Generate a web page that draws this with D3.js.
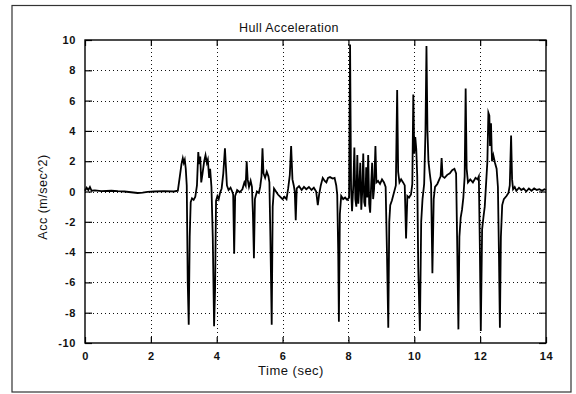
<!DOCTYPE html>
<html>
<head>
<meta charset="utf-8">
<script src="https://cdn.jsdelivr.net/npm/d3@7"></script>
<style>
  html, body { margin: 0; padding: 0; background: #fff; }
  svg { display: block; }
  text { font-family: "Liberation Sans", Arial, Helvetica, sans-serif; fill: #111; }
</style>
</head>
<body>
<svg id="chart" width="576" height="394"></svg>
<script>
// Hull acceleration record: sample times (s) and acceleration (m/s^2)
const timeSec = [
  0.00, 0.05, 0.10, 0.15, 0.20, 0.30, 0.50, 0.80, 1.00, 1.20,
  1.40, 1.60, 1.75, 1.90, 2.10, 2.40, 2.70, 2.82, 2.88, 2.93,
  2.97, 3.00, 3.03, 3.06, 3.09, 3.12, 3.15, 3.18, 3.21, 3.25,
  3.30, 3.35, 3.40, 3.44, 3.47, 3.50, 3.53, 3.57, 3.62, 3.66,
  3.70, 3.73, 3.77, 3.80, 3.84, 3.88, 3.92, 3.95, 3.98, 4.02,
  4.06, 4.10, 4.15, 4.20, 4.25, 4.28, 4.31, 4.36, 4.42, 4.47,
  4.50, 4.53, 4.56, 4.62, 4.70, 4.78, 4.84, 4.88, 4.91, 4.94,
  4.98, 5.03, 5.07, 5.10, 5.13, 5.16, 5.22, 5.28, 5.32, 5.36,
  5.39, 5.42, 5.47, 5.52, 5.57, 5.60, 5.63, 5.67, 5.70, 5.74,
  5.80, 5.86, 5.93, 6.00, 6.06, 6.12, 6.17, 6.22, 6.26, 6.30,
  6.34, 6.37, 6.40, 6.43, 6.50, 6.58, 6.65, 6.72, 6.80, 6.88,
  6.95, 7.02, 7.07, 7.11, 7.16, 7.22, 7.28, 7.33, 7.38, 7.44,
  7.52, 7.58, 7.63, 7.66, 7.69, 7.71, 7.74, 7.78, 7.84, 7.90,
  7.96, 8.02, 8.05, 8.08, 8.11, 8.15, 8.18, 8.21, 8.24, 8.27,
  8.30, 8.33, 8.36, 8.39, 8.42, 8.45, 8.48, 8.51, 8.54, 8.57,
  8.60, 8.63, 8.66, 8.69, 8.72, 8.75, 8.78, 8.82, 8.85, 8.90,
  8.96, 9.02, 9.08, 9.13, 9.17, 9.21, 9.24, 9.27, 9.32, 9.38,
  9.44, 9.48, 9.51, 9.55, 9.60, 9.66, 9.71, 9.75, 9.79, 9.84,
  9.90, 9.94, 9.97, 10.00, 10.03, 10.06, 10.09, 10.12, 10.17, 10.21,
  10.25, 10.30, 10.34, 10.37, 10.40, 10.43, 10.47, 10.51, 10.55, 10.59,
  10.63, 10.70, 10.76, 10.80, 10.83, 10.86, 10.92, 11.00, 11.08, 11.15,
  11.22, 11.27, 11.30, 11.34, 11.37, 11.41, 11.45, 11.49, 11.53, 11.56,
  11.59, 11.63, 11.70, 11.78, 11.86, 11.92, 11.96, 11.99, 12.02, 12.06,
  12.10, 12.14, 12.18, 12.22, 12.25, 12.28, 12.30, 12.33, 12.36, 12.40,
  12.45, 12.50, 12.54, 12.57, 12.60, 12.63, 12.67, 12.72, 12.80, 12.86,
  12.90, 12.94, 12.97, 13.00, 13.05, 13.10, 13.18, 13.25, 13.32, 13.40,
  13.48, 13.56, 13.64, 13.72, 13.80, 13.88, 13.95, 14.00
];
const accMs2 = [
  0.05, 0.25, 0.10, 0.30, 0.05, 0.08, 0.03, 0.05, 0.02, 0.00,
  -0.05, -0.10, -0.08, -0.02, 0.00, 0.02, 0.00, 0.05, 1.00, 1.80,
  2.20, 1.90, 2.10, 1.50, 0.40, -6.0, -8.8, -3.0, -0.7, -0.45,
  -0.55, -0.35, 0.4, 2.6, 1.8, 2.3, 0.6, 1.2, 2.0, 2.4,
  1.9, 2.1, 0.9, 1.5, 0.3, -3.0, -8.9, -6.5, -0.6, -0.3,
  -0.5, -0.1, 0.2, 1.2, 2.85, 1.6, 0.4, 0.1, 0.25, 0.0,
  -0.2, -4.1, -0.3, 0.1, -0.05, 0.15, 0.6, 0.4, 2.0, 0.8,
  0.3, 0.7, 0.3, -1.5, -4.4, -0.5, 0.0, -0.1, 0.3, 1.0,
  2.85, 1.2, 0.9, 1.3, 1.0, 0.6, -3.0, -8.8, -1.0, 0.2,
  0.0, -0.2, -0.35, -0.5, -0.35, -0.5, 0.2, 1.1, 3.0, 0.8,
  0.4, 0.0, -1.9, 0.2, 0.35, 0.1, 0.3, 0.15, 0.3, 0.1,
  0.25, 0.0, -0.9, -0.2, 0.4, 0.9, 0.7, 0.6, 0.9, 0.95,
  0.85, 0.9, 0.4, -0.2, -4.0, -8.6, -1.5, -0.3, -0.5, -0.4,
  -0.55, -0.4, 9.7, 0.2, -1.3, 0.5, 2.9, -0.5, -1.0, 2.4,
  -0.8, 0.3, 1.9, -1.2, 0.0, 2.5, -0.7, -1.0, 1.6, -0.4,
  2.4, -0.8, -1.4, 0.4, 1.9, -0.5, 0.2, 3.0, 0.6, 0.7,
  0.5, 0.8, 0.6, 0.3, -4.0, -9.0, -2.0, -0.9, -0.6, -0.1,
  0.4, 6.7, 1.3, 0.6, 0.8, 0.6, 0.4, -3.1, -0.3, -0.4,
  -0.2, 0.5, 6.4, 2.5, 3.6, 2.8, 1.0, -5.0, -9.2, -2.0,
  -0.5, 0.5, 4.0, 9.6, 4.0, 2.0, 1.2, 0.5, -5.4, -0.5,
  0.3, 0.5, 0.8, 1.0, 2.2, 1.0, 0.9, 1.1, 1.2, 1.4,
  1.5, 1.2, -3.0, -9.1, -3.0, -1.7, -1.2, -0.4, 1.0, 6.8,
  1.5, 0.6, 0.8, 0.6, 0.9, 0.8, 1.0, -3.5, -9.2, -2.5,
  -1.7, -1.0, 0.5, 2.0, 5.2, 5.0, 3.0, 4.5, 2.0, 2.4,
  1.9, 1.5, 0.3, -4.0, -9.0, -3.0, -0.9, -0.5, -0.3, -0.1,
  0.4, 3.7, 0.8, 0.15, 0.3, 0.05, 0.25, 0.1, 0.2, 0.0,
  0.2, 0.05, 0.2, 0.1, 0.15, 0.05, 0.15, 0.1
];
const xTicks = [0, 2, 4, 6, 8, 10, 12, 14];
const yTicks = [-10, -8, -6, -4, -2, 0, 2, 4, 6, 8, 10];
const titleText = "Hull Acceleration";
const xLabel = "Time (sec)";
const yLabel = "Acc (m/sec^2)";

const svg = d3.select("#chart");
const plot = { left: 85, right: 546, top: 40, bottom: 343 };

const x = d3.scaleLinear().domain([0, 14]).range([plot.left, plot.right]);
const y = d3.scaleLinear().domain([-10, 10]).range([plot.bottom, plot.top]);

// outer figure frame
svg.append("rect")
  .attr("x", 12).attr("y", 5.5).attr("width", 559).attr("height", 386.5)
  .attr("fill", "none").attr("stroke", "#333").attr("stroke-width", 1.2);

// dotted grid
const grid = svg.append("g").attr("stroke", "#111").attr("stroke-width", 1)
  .attr("stroke-dasharray", "1,3");
grid.selectAll("line.gx").data(xTicks.slice(1, -1)).join("line")
  .attr("x1", d => Math.round(x(d)) + 0.5).attr("x2", d => Math.round(x(d)) + 0.5)
  .attr("y1", plot.top).attr("y2", plot.bottom);
grid.selectAll("line.gy").data(yTicks.slice(1, -1)).join("line")
  .attr("y1", d => Math.round(y(d)) + 0.5).attr("y2", d => Math.round(y(d)) + 0.5)
  .attr("x1", plot.left).attr("x2", plot.right);

// signal trace
const line = d3.line().x(i => x(timeSec[i])).y(i => y(accMs2[i]));
svg.append("path")
  .attr("d", line(d3.range(timeSec.length)))
  .attr("fill", "none").attr("stroke", "#000").attr("stroke-width", 1.8)
  .attr("stroke-linejoin", "miter").attr("stroke-miterlimit", 6);

// axes with inward ticks on all four sides
const fontSize = "11px";
const styleAxis = g => {
  g.select(".domain").remove();
  g.selectAll(".tick line").attr("stroke", "#000").attr("stroke-width", 1.2);
  g.selectAll(".tick text").attr("font-size", fontSize).attr("font-weight", "bold")
    .attr("fill", "#111").style("letter-spacing", "0.6px");
};
svg.append("g").attr("transform", `translate(0,${plot.bottom})`)
  .call(d3.axisBottom(x).tickValues(xTicks).tickSize(-6).tickPadding(9).tickFormat(d3.format("d")))
  .call(styleAxis);
svg.append("g").attr("transform", `translate(0,${plot.top})`)
  .call(d3.axisTop(x).tickValues(xTicks).tickSize(-6).tickFormat(""))
  .call(styleAxis);
svg.append("g").attr("transform", `translate(${plot.left},0)`)
  .call(d3.axisLeft(y).tickValues(yTicks).tickSize(-7).tickPadding(9)
    .tickFormat(d => d < 0 ? "-" + Math.abs(d) : String(d)))
  .call(styleAxis);
svg.append("g").attr("transform", `translate(${plot.right},0)`)
  .call(d3.axisRight(y).tickValues(yTicks).tickSize(-7).tickFormat(""))
  .call(styleAxis);

// plot box
svg.append("rect")
  .attr("x", plot.left).attr("y", plot.top)
  .attr("width", plot.right - plot.left).attr("height", plot.bottom - plot.top)
  .attr("fill", "none").attr("stroke", "#000").attr("stroke-width", 1.4);

// titles
svg.append("text").attr("x", 289).attr("y", 32).attr("text-anchor", "middle")
  .attr("font-size", "12.5px").style("letter-spacing", "0.4px").text(titleText);
svg.append("text").attr("x", 291).attr("y", 375).attr("text-anchor", "middle")
  .attr("font-size", "13px").style("letter-spacing", "0.5px").text(xLabel);
svg.append("text").attr("transform", "translate(47,197) rotate(-90)")
  .attr("text-anchor", "middle").attr("font-size", "12.5px")
  .style("letter-spacing", "0.5px").text(yLabel);
</script>
</body>
</html>
